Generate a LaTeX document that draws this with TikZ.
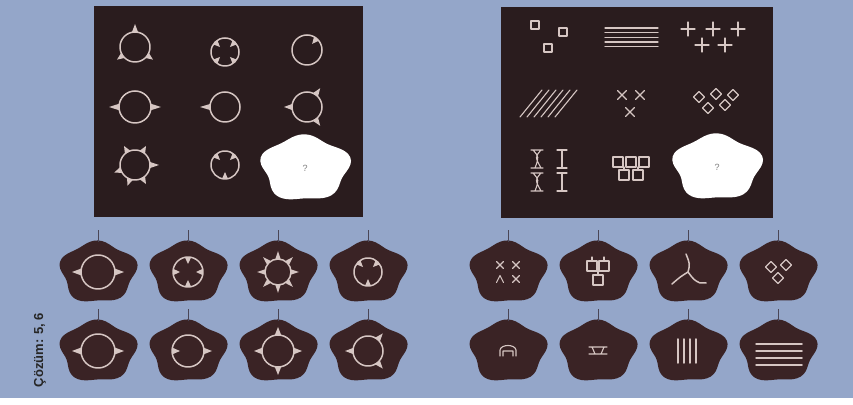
\documentclass[tikz,border=0pt]{standalone}
\usepackage{fontspec}
\setmainfont{Liberation Sans}
\usetikzlibrary{calc}
\definecolor{bg}{HTML}{94A6C9}
\definecolor{panel}{HTML}{2A1C1E}
\definecolor{blobc}{HTML}{3A2325}
\definecolor{ink}{HTML}{D6C6C3}
\definecolor{tickc}{HTML}{4A4656}
\tikzset{
  figline/.style={draw=ink, line width=1.5pt, line cap=round, line join=round},
  thinline/.style={draw=ink, line width=1.1pt, line cap=round, line join=round},
  tagtick/.style={draw=tickc, line width=1pt},
}
% ring figure: x, y, radius, list of angle/spike length (negative = inward)
\newcommand\ringfig[4]{%
  \begin{scope}[shift={(#1,#2)}]
    \draw[figline] (0,0) circle (#3);
    \foreach \a/\l in {#4}{
      \fill[ink] (\a-12:#3) -- (\a:#3+\l) -- (\a+12:#3) -- cycle;
    }
  \end{scope}}
% blob: x, y, rx, ry, colour
\newcommand\blobat[5]{%
  \fill[#5] plot[smooth cycle, domain=0:354, samples=60, variable=\t]
    ({#1+#3*(1+0.075*sin(5*\t)+0.03*sin(3*\t+40))*cos(\t)},
     {#2+#4*(1+0.075*sin(5*\t)+0.03*sin(3*\t+40))*sin(\t)});}
% hanging tag: blob + tick
\newcommand\tagat[2]{%
  \blobat{#1}{#2}{37}{30}{blobc}
  \draw[tagtick] (#1,#2+30) -- (#1,#2+42);}
\newcommand\sqat[3]{\draw[thinline] (#1-#3,#2-#3) rectangle (#1+#3,#2+#3);}
\newcommand\diaat[3]{\draw[thinline] (#1-#3,#2) -- (#1,#2+#3) -- (#1+#3,#2) -- (#1,#2-#3) -- cycle;}
\newcommand\xat[3]{\draw[thinline] (#1-#3,#2-#3) -- (#1+#3,#2+#3) (#1-#3,#2+#3) -- (#1+#3,#2-#3);}
\newcommand\plusat[3]{\draw[thinline] (#1-#3,#2) -- (#1+#3,#2) (#1,#2-#3) -- (#1,#2+#3);}
\begin{document}
\begin{tikzpicture}[x=1pt,y=1pt]
\useasboundingbox (0,0) rectangle (853,404);
\fill[bg] (0,0) rectangle (853,404);
\fill[white] (0,0) rectangle (853,6);

% ---------- left panel ----------
\fill[panel] (94,187) rectangle (363,398);
\ringfig{135}{357}{15}{90/8, 215/7, 325/7}
\ringfig{225}{352}{14}{45/-7, 135/-7, 225/-7, 315/-7}
\ringfig{307}{354}{15}{50/-7}
\ringfig{135}{297}{16}{0/10, 180/10}
\ringfig{225}{297}{15}{180/10}
\ringfig{307}{297}{15}{180/8, 55/8, 305/8}
\ringfig{135}{239}{15}{0/9, 60/7, 120/7, 200/7, 250/7, 300/7}
\ringfig{225}{239}{14}{45/-7, 135/-7, 270/-7}
\blobat{305}{236}{43}{32}{white}
\node[text=gray, font=\fontsize{9}{9}\selectfont] (qleft) at (305,236) {?};

% ---------- right panel ----------
\fill[panel] (501,186) rectangle (773,397);
% row 1
\sqat{535}{379}{4}
\sqat{563}{372}{4}
\sqat{548}{356}{4}
\foreach \yy in {376,371.3,366.7,362,357.3}{\draw[thinline] (605,\yy) -- (658,\yy);}
\plusat{688}{375}{7}\plusat{713}{375}{7}\plusat{738}{375}{7}
\plusat{702}{359}{7}\plusat{725}{359}{7}
% row 2
\foreach \i in {0,...,5}{\draw[thinline] (520+\i*7,287) -- (542+\i*7,314);}
\xat{622}{309}{4.5}\xat{640}{309}{4.5}\xat{630}{292}{4.5}
\diaat{699}{307}{5.5}\diaat{716}{310}{5.5}\diaat{708}{296}{5.5}
\diaat{725}{299}{5.5}\diaat{733}{309}{5.5}
% row 3
\foreach \yy in {245,222}{
  \draw[thinline] (531,\yy+9) -- (543,\yy+9) (531,\yy-9) -- (543,\yy-9)
     (533,\yy+9) .. controls (539,\yy+2) .. (535,\yy-9)
     (541,\yy+9) .. controls (535,\yy+2) .. (541,\yy-9);
  \draw[thinline] (557,\yy+9) -- (567,\yy+9) (557,\yy-9) -- (567,\yy-9)
     (562,\yy+9) -- (562,\yy-9);
}
\sqat{618}{242}{5}\sqat{631}{242}{5}\sqat{644}{242}{5}
\sqat{624}{229}{5}\sqat{638}{229}{5}
\draw[thinline] (624,234) -- (624,237) (638,234) -- (638,237);
\blobat{717}{237}{43}{32}{white}
\node[text=gray, font=\fontsize{9}{9}\selectfont] (qright) at (717,237) {?};

% ---------- left answer tags ----------
\foreach \xx in {98,188,278,368}{\tagat{\xx}{132}\tagat{\xx}{53}}
\ringfig{98}{132}{17}{0/9, 180/9}
\ringfig{188}{132}{15}{90/-7, 270/-7, 0/-7, 180/-7}
\ringfig{278}{132}{13}{0/8, 45/8, 90/8, 135/8, 180/8, 225/8, 270/8, 315/8}
\ringfig{368}{132}{14}{135/-7, 45/-7, 270/-7}
\ringfig{98}{53}{17}{0/9, 180/9}
\ringfig{188}{53}{16}{180/-8, 0/8}
\ringfig{278}{53}{16}{0/8, 90/8, 180/8, 270/8}
\ringfig{368}{53}{15}{180/8, 50/8, 310/8}

% ---------- right answer tags ----------
\foreach \xx in {508,598,688,778}{\tagat{\xx}{132}\tagat{\xx}{53}}
% 1
\xat{500}{139}{3.5}\xat{516}{139}{3.5}\xat{516}{125}{3.5}
\draw[thinline] (496.5,121.5) -- (500,128.5) -- (503.5,121.5);
% 2
\sqat{592}{138}{5}\sqat{604}{138}{5}\sqat{598}{124}{5}
\draw[thinline] (598,133) -- (598,129) (592,143) -- (592,147) (604,143) -- (604,147);
% 3
\draw[figline] (688,132) .. controls (690,140) .. (686,150)
  (688,132) .. controls (680,127) .. (672,120)
  (688,132) .. controls (694,124) .. (700,121) -- (706,121);
% 4
\diaat{771}{137}{5.5}\diaat{786}{139}{5.5}\diaat{778}{126}{5.5}
% 5
\draw[thinline] (500,48) -- (500,54) .. controls (501,60) and (515,60) .. (516,54) -- (516,48)
  (503,48) -- (503,53) (513,48) -- (513,53) (503,53) -- (513,53);
% 6
\draw[thinline] (589,57) -- (607,57) (592,57) -- (595,50) (604,57) -- (601,50) (589,50) -- (607,50);
% 7
\foreach \dx in {-10,-4,2,8}{\draw[figline] (688+\dx,41) -- (688+\dx,65);}
% 8
\foreach \dy in {-11,-4,3,10}{\draw[figline] (756,50+\dy) -- (802,50+\dy);}

% ---------- solution text ----------
\node[rotate=90, font=\bfseries\fontsize{13}{13}\selectfont, text=black!85] (sol) at (40,54) {Çözüm: 5, 6};
\end{tikzpicture}
\end{document}
